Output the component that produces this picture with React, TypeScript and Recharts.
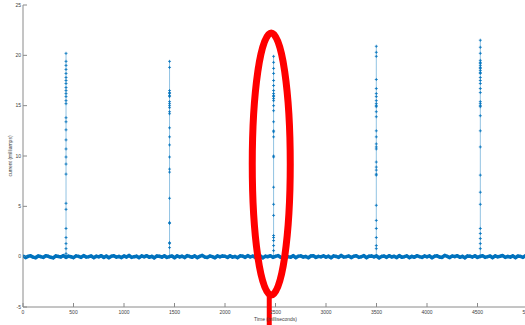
import { ComposedChart, Line, XAxis, YAxis, ReferenceDot } from "recharts";

// time axis (ms) and current axis (mA)
const X_TICKS = [0, 500, 1000, 1500, 2000, 2500, 3000, 3500, 4000, 4500, 5000];
const Y_TICKS = [-5, 0, 5, 10, 15, 20, 25];

// baseline noise, one reading every 25 ms from 0 to 5000
const BASELINE_STEP = 25;
const baselineCurrent = [
  0.06, -0.09, 0.03, 0.1, -0.05, -0.11, 0.07, 0.01, -0.08, 0.09, 0.04, -0.06, -0.12, 0.08, 0.02, -0.03, 0.11, -0.08, 0.05, -0.01,
  -0.1, 0.08, 0.03, -0.07, 0.11, -0.04, 0.0, 0.07, -0.1, 0.05, -0.02, 0.1, -0.08, 0.06, -0.11, 0.04, 0.09, -0.05, 0.02, -0.09,
  0.07, -0.04, 0.12, -0.07, 0.0, 0.05, -0.1, 0.08, -0.02, 0.1, -0.06, 0.03, -0.12, 0.07, 0.04, -0.05, 0.09, -0.08, 0.01, 0.06,
  -0.11, 0.08, -0.03, 0.05, -0.09, 0.11, 0.02, -0.06, 0.08, -0.1, 0.03, 0.12, -0.04, -0.08, 0.06, 0.0, -0.11, 0.09, -0.02, 0.07,
  0.04, -0.08, 0.1, -0.05, 0.02, -0.1, 0.08, 0.05, -0.07, 0.11, -0.03, 0.06, -0.09, 0.01, 0.08, -0.12, 0.05, 0.0, 0.09, -0.07,
  0.03, 0.11, -0.05, -0.09, 0.07, 0.0, -0.06, 0.1, -0.1, 0.04, 0.08, -0.04, 0.02, -0.11, 0.07, 0.1, -0.08, 0.03, -0.02, 0.09,
  -0.06, 0.05, -0.11, 0.08, 0.02, -0.08, 0.12, -0.04, 0.0, 0.06, -0.09, 0.04, 0.09, -0.07, -0.01, 0.11, -0.1, 0.05, 0.07, -0.03,
  0.08, -0.12, 0.02, 0.06, -0.07, 0.1, -0.03, 0.04, -0.09, 0.11, -0.05, 0.0, 0.08, -0.1, 0.03, -0.06, 0.1, 0.01, -0.08, 0.07,
  -0.02, 0.09, -0.11, 0.05, 0.08, -0.04, -0.08, 0.12, 0.03, -0.09, 0.06, 0.0, 0.1, -0.06, 0.04, -0.12, 0.07, 0.05, -0.04, 0.09,
  -0.08, 0.02, 0.1, -0.07, 0.0, 0.06, -0.1, 0.08, -0.02, 0.04, 0.11, -0.08, 0.02, -0.05, 0.08, -0.1, 0.06, 0.03, -0.07, 0.1,
  0.0,
];

// pulse times (ms) and the readings logged during each pulse
const spikeTimes = [426, 1451, 2481, 3498, 4528];
const spike1 = [0, 0.3, 0.8, 1.3, 1.9, 2.8, 4.7, 5.3, 8.2, 9.2, 9.9, 10.7, 11.6, 12.6, 13.4, 13.8, 15.2, 15.5, 15.9, 16.2, 16.5, 16.8, 17.2, 17.5, 17.8, 18.2, 18.6, 19.0, 19.4, 20.2];
const spike2 = [0, 0.9, 1.3, 1.4, 3.3, 3.4, 5.8, 8.4, 8.7, 9.9, 11.1, 11.9, 12.8, 14.2, 14.4, 14.8, 15.0, 15.2, 15.4, 15.9, 16.0, 16.2, 16.3, 16.5, 18.8, 19.4];
const spike3 = [0, 0.6, 1.1, 1.6, 1.9, 2.1, 4.1, 5.2, 6.9, 9.9, 10.0, 11.9, 12.4, 12.5, 13.4, 14.5, 15.0, 15.5, 15.7, 15.9, 16.0, 16.2, 16.5, 17.0, 17.5, 18.2, 18.7, 19.3, 19.9];
const spike4 = [0, 0.8, 1.1, 1.9, 2.8, 3.6, 5.1, 8.1, 8.2, 8.6, 8.9, 9.4, 10.7, 10.9, 11.2, 11.9, 12.5, 13.9, 14.4, 14.9, 15.0, 15.2, 15.5, 15.9, 16.2, 16.7, 17.6, 19.9, 20.3, 20.9];
const spike5 = [0, 0.8, 1.3, 1.8, 2.3, 2.8, 5.2, 6.4, 8.1, 10.9, 12.5, 14.0, 14.9, 15.0, 15.2, 15.4, 16.3, 16.7, 17.2, 17.5, 17.8, 18.2, 18.3, 18.5, 18.7, 18.8, 19.0, 19.2, 19.3, 19.5, 20.2, 20.8, 21.5];
const spikeValues = [spike1, spike2, spike3, spike4, spike5];

// red hand-drawn circle around the third pulse
const MARK_T = 2458;
const MARK_V = 9.2;

const BLUE = "#0072BD";
const AXIS = "#8a8a8a";
const TEXT = "#404040";
const FONT = "'Liberation Sans', Arial, sans-serif";

const baselineData = baselineCurrent.map((v, i) => ({ t: i * BASELINE_STEP, v }));
const spikeData = spikeTimes.map((t, i) => spikeValues[i].map((v) => ({ t, v })));

const plusDot = (half: number, width: number) => (props: any) => {
  const { cx, cy, index } = props;
  if (cx == null || cy == null) return <g key={index} />;
  return (
    <path
      key={index}
      d={`M${cx - half},${cy}h${half * 2}M${cx},${cy - half}v${half * 2}`}
      stroke={BLUE}
      strokeWidth={width}
      fill="none"
    />
  );
};

const Annotation = (props: any) => {
  const { cx, cy } = props;
  if (cx == null) return <g />;
  return (
    <g fill="none" stroke="#ff0000">
      <ellipse cx={cx} cy={cy} rx={19} ry={131} strokeWidth={7} />
      <line x1={cx - 2} y1={cy + 128} x2={cx - 2} y2={cy + 170} strokeWidth={5} />
    </g>
  );
};

export default function App() {
  return (
    <div
      style={{
        position: "absolute",
        left: 0,
        top: 0,
        width: 525,
        height: 325,
        overflow: "hidden",
        background: "#fff",
        fontFamily: FONT,
      }}
    >
      <ComposedChart width={540} height={325} margin={{ top: 5, right: 12, bottom: 0, left: 0 }}>
        <XAxis
          xAxisId="b"
          dataKey="t"
          type="number"
          domain={[0, 5000]}
          ticks={X_TICKS}
          allowDataOverflow
          height={18}
          stroke={AXIS}
          tickSize={-4}
          tickMargin={7}
          tick={{ fontSize: 5, fill: TEXT }}
          label={{ value: "Time (milliseconds)", position: "insideBottom", offset: 4, style: { fontSize: 5, fill: TEXT } }}
        />
        <XAxis
          xAxisId="top"
          orientation="top"
          type="number"
          domain={[0, 5000]}
          ticks={X_TICKS}
          height={0}
          stroke={AXIS}
          tickSize={-5}
          tick={false}
        />
        <YAxis
          yAxisId="l"
          type="number"
          domain={[-5, 25]}
          ticks={Y_TICKS}
          width={23}
          stroke={AXIS}
          tickSize={-4}
          tickMargin={6}
          tick={{ fontSize: 5, fill: TEXT }}
          label={{ value: "current (milliamps)", angle: -90, position: "center", dx: -1.5, style: { fontSize: 5, fill: TEXT } }}
        />
        <Line
          xAxisId="b"
          yAxisId="l"
          data={baselineData}
          dataKey="v"
          stroke={BLUE}
          strokeWidth={3.5}
          strokeLinejoin="round"
          dot={plusDot(1.6, 1.1)}
          isAnimationActive={false}
        />
        {spikeData.map((d, i) => (
          <Line
            key={i}
            xAxisId="b"
            yAxisId="l"
            data={d}
            dataKey="v"
            stroke={BLUE}
            strokeOpacity={0.55}
            strokeWidth={0.8}
            dot={plusDot(1.5, 0.8)}
            isAnimationActive={false}
          />
        ))}
        <ReferenceDot xAxisId="b" yAxisId="l" x={MARK_T} y={MARK_V} shape={Annotation} ifOverflow="visible" />
      </ComposedChart>
    </div>
  );
}
